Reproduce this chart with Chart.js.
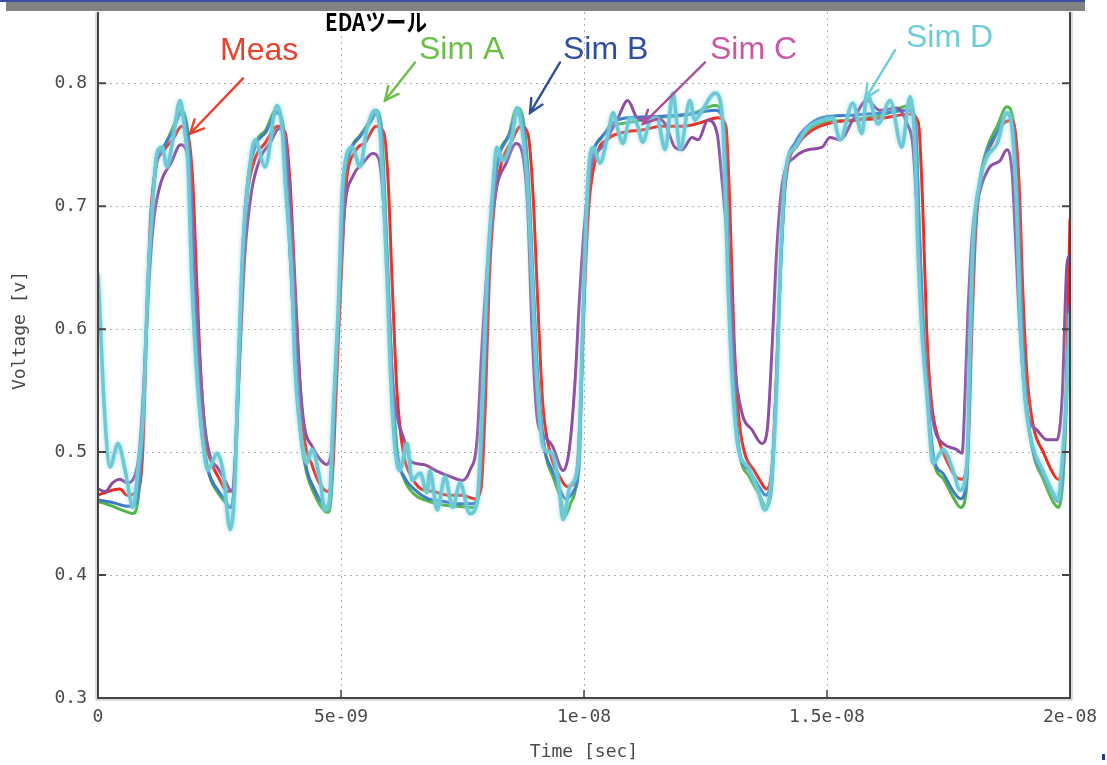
<!DOCTYPE html>
<html><head><meta charset="utf-8">
<script src="https://cdn.jsdelivr.net/npm/chart.js@4"></script>
<style>html,body{margin:0;padding:0;background:#fff}canvas{display:block}</style>
</head><body>
<canvas id="c" width="1107" height="765"></canvas>
<script>
// ---- axis ticks (time in ns) ----
const xTickValues = [0, 5, 10, 15, 20];
const xTickLabels = ['0', '5e-09', '1e-08', '1.5e-08', '2e-08'];
const yTickValues = [0.3, 0.4, 0.5, 0.6, 0.7, 0.8];
const yTickLabels = ['0.3', '0.4', '0.5', '0.6', '0.7', '0.8'];
const xTitle = 'Time [sec]';
const yTitle = 'Voltage [v]';
const seriesNames = ['Meas', 'Sim A', 'Sim B', 'Sim C', 'Sim D'];

// ---- series: [time ns, voltage V] ----
const meas = [[0,0.465],[0.2,0.468],[0.45,0.47],[0.6,0.465],[0.8,0.468],[0.92,0.5],[1.0,0.6],[1.08,0.69],[1.18,0.73],[1.35,0.745],[1.55,0.755],[1.72,0.765],[1.85,0.758],[1.95,0.72],[2.03,0.64],[2.12,0.56],[2.22,0.51],[2.35,0.49],[2.5,0.478],[2.65,0.468],[2.78,0.47],[2.86,0.52],[2.95,0.62],[3.05,0.7],[3.2,0.735],[3.45,0.752],[3.7,0.765],[3.85,0.76],[3.95,0.72],[4.05,0.64],[4.15,0.56],[4.25,0.51],[4.4,0.49],[4.55,0.475],[4.72,0.468],[4.82,0.48],[4.9,0.55],[5.0,0.64],[5.1,0.715],[5.3,0.745],[5.5,0.752],[5.72,0.765],[5.88,0.76],[5.97,0.72],[6.05,0.64],[6.15,0.55],[6.28,0.5],[6.45,0.48],[6.65,0.47],[6.9,0.468],[7.2,0.465],[7.5,0.465],[7.75,0.462],[7.88,0.47],[7.97,0.54],[8.05,0.64],[8.15,0.7],[8.3,0.735],[8.5,0.752],[8.7,0.765],[8.85,0.758],[8.95,0.71],[9.05,0.62],[9.15,0.54],[9.3,0.5],[9.5,0.48],[9.65,0.472],[9.8,0.475],[9.92,0.52],[10.0,0.62],[10.1,0.7],[10.25,0.74],[10.5,0.755],[10.8,0.76],[11.2,0.762],[11.6,0.765],[12.0,0.765],[12.4,0.768],[12.75,0.772],[12.92,0.765],[13.0,0.7],[13.08,0.6],[13.18,0.53],[13.3,0.5],[13.5,0.485],[13.65,0.475],[13.75,0.47],[13.85,0.48],[13.95,0.55],[14.03,0.64],[14.15,0.72],[14.4,0.75],[14.7,0.762],[15.1,0.768],[15.6,0.77],[16.2,0.772],[16.7,0.775],[16.88,0.768],[16.97,0.7],[17.05,0.6],[17.15,0.54],[17.3,0.51],[17.5,0.49],[17.65,0.48],[17.78,0.478],[17.9,0.5],[17.98,0.6],[18.06,0.68],[18.2,0.73],[18.4,0.752],[18.65,0.768],[18.82,0.77],[18.95,0.72],[19.03,0.63],[19.12,0.56],[19.25,0.52],[19.45,0.5],[19.62,0.485],[19.75,0.478],[19.88,0.5],[19.95,0.6],[20,0.69]];

const simA = [[0,0.46],[0.3,0.456],[0.55,0.452],[0.72,0.45],[0.82,0.46],[0.9,0.5],[0.97,0.57],[1.04,0.65],[1.12,0.7],[1.22,0.738],[1.38,0.75],[1.55,0.765],[1.7,0.778],[1.8,0.772],[1.9,0.735],[1.97,0.65],[2.07,0.56],[2.17,0.51],[2.3,0.48],[2.45,0.468],[2.6,0.46],[2.73,0.455],[2.8,0.472],[2.88,0.56],[2.98,0.665],[3.08,0.72],[3.25,0.752],[3.45,0.762],[3.66,0.778],[3.8,0.768],[3.88,0.72],[3.98,0.64],[4.08,0.565],[4.18,0.51],[4.3,0.482],[4.45,0.466],[4.6,0.455],[4.72,0.451],[4.8,0.465],[4.87,0.54],[4.96,0.625],[5.06,0.715],[5.2,0.746],[5.4,0.758],[5.6,0.77],[5.72,0.778],[5.83,0.765],[5.89,0.72],[5.98,0.63],[6.06,0.555],[6.16,0.5],[6.3,0.478],[6.5,0.466],[6.8,0.46],[7.1,0.457],[7.4,0.456],[7.7,0.455],[7.82,0.462],[7.92,0.535],[8.02,0.64],[8.12,0.705],[8.25,0.742],[8.45,0.758],[8.62,0.78],[8.75,0.77],[8.86,0.72],[8.96,0.63],[9.06,0.55],[9.2,0.5],[9.38,0.478],[9.52,0.462],[9.6,0.448],[9.72,0.458],[9.85,0.48],[9.95,0.56],[10.05,0.68],[10.15,0.735],[10.35,0.755],[10.6,0.765],[10.9,0.768],[11.5,0.772],[12.2,0.775],[12.7,0.782],[12.84,0.775],[12.92,0.72],[12.98,0.64],[13.07,0.56],[13.2,0.5],[13.4,0.48],[13.6,0.466],[13.74,0.456],[13.86,0.47],[13.95,0.55],[14.04,0.645],[14.15,0.725],[14.35,0.75],[14.6,0.762],[14.9,0.768],[15.5,0.77],[16.2,0.775],[16.7,0.782],[16.82,0.765],[16.9,0.68],[16.98,0.6],[17.08,0.535],[17.2,0.492],[17.4,0.478],[17.6,0.463],[17.75,0.455],[17.87,0.47],[17.94,0.56],[18.02,0.665],[18.15,0.722],[18.3,0.748],[18.5,0.765],[18.7,0.781],[18.83,0.77],[18.93,0.7],[19.01,0.61],[19.1,0.54],[19.25,0.498],[19.45,0.478],[19.62,0.462],[19.76,0.455],[19.86,0.48],[19.94,0.55],[20,0.6]];

const simB = [[0,0.461],[0.3,0.459],[0.6,0.456],[0.78,0.458],[0.88,0.49],[0.95,0.56],[1.03,0.64],[1.1,0.695],[1.2,0.735],[1.35,0.748],[1.55,0.762],[1.7,0.775],[1.8,0.77],[1.88,0.74],[1.95,0.65],[2.05,0.56],[2.15,0.51],[2.28,0.483],[2.45,0.47],[2.6,0.462],[2.72,0.455],[2.8,0.47],[2.88,0.56],[2.98,0.665],[3.08,0.72],[3.25,0.75],[3.45,0.76],[3.68,0.776],[3.8,0.765],[3.87,0.72],[3.98,0.64],[4.07,0.57],[4.17,0.515],[4.3,0.485],[4.45,0.47],[4.62,0.458],[4.72,0.455],[4.8,0.47],[4.86,0.54],[4.95,0.62],[5.05,0.715],[5.2,0.745],[5.4,0.757],[5.6,0.768],[5.72,0.775],[5.82,0.765],[5.88,0.72],[5.97,0.64],[6.05,0.56],[6.15,0.5],[6.3,0.48],[6.5,0.47],[6.8,0.462],[7.1,0.46],[7.4,0.458],[7.7,0.458],[7.82,0.465],[7.92,0.535],[8.02,0.64],[8.12,0.705],[8.25,0.74],[8.45,0.757],[8.62,0.775],[8.74,0.768],[8.85,0.72],[8.95,0.64],[9.05,0.56],[9.18,0.505],[9.35,0.485],[9.5,0.47],[9.62,0.462],[9.78,0.468],[9.9,0.49],[9.98,0.61],[10.08,0.715],[10.2,0.745],[10.4,0.758],[10.6,0.768],[10.9,0.772],[11.5,0.773],[12.2,0.775],[12.7,0.778],[12.85,0.772],[12.92,0.72],[12.98,0.64],[13.07,0.56],[13.2,0.5],[13.4,0.485],[13.6,0.472],[13.74,0.465],[13.86,0.48],[13.96,0.56],[14.04,0.645],[14.15,0.725],[14.35,0.752],[14.6,0.765],[14.9,0.772],[15.5,0.774],[16.2,0.776],[16.7,0.778],[16.82,0.765],[16.9,0.68],[16.98,0.6],[17.08,0.54],[17.2,0.495],[17.4,0.482],[17.6,0.468],[17.75,0.462],[17.88,0.48],[17.95,0.58],[18.02,0.665],[18.15,0.72],[18.3,0.745],[18.5,0.76],[18.7,0.775],[18.82,0.765],[18.92,0.7],[19.0,0.61],[19.1,0.54],[19.25,0.5],[19.45,0.482],[19.62,0.468],[19.75,0.46],[19.86,0.49],[19.94,0.56],[20,0.62]];

const simC = [[0,0.47],[0.15,0.468],[0.3,0.475],[0.45,0.478],[0.6,0.475],[0.75,0.48],[0.85,0.5],[0.95,0.56],[1.05,0.64],[1.15,0.69],[1.3,0.72],[1.5,0.735],[1.7,0.75],[1.82,0.745],[1.92,0.71],[2.0,0.64],[2.1,0.57],[2.2,0.52],[2.32,0.495],[2.45,0.488],[2.6,0.478],[2.75,0.468],[2.83,0.5],[2.92,0.58],[3.02,0.66],[3.15,0.71],[3.35,0.74],[3.55,0.752],[3.72,0.763],[3.85,0.755],[3.95,0.71],[4.05,0.63],[4.15,0.56],[4.25,0.52],[4.4,0.505],[4.55,0.495],[4.7,0.49],[4.8,0.5],[4.88,0.56],[4.98,0.64],[5.08,0.7],[5.25,0.725],[5.45,0.735],[5.65,0.743],[5.78,0.738],[5.88,0.7],[5.97,0.63],[6.06,0.56],[6.15,0.53],[6.3,0.51],[6.45,0.492],[6.7,0.49],[6.95,0.485],[7.25,0.48],[7.5,0.477],[7.65,0.485],[7.8,0.51],[7.9,0.585],[8.02,0.655],[8.2,0.715],[8.4,0.735],[8.6,0.751],[8.72,0.745],[8.84,0.7],[8.93,0.6],[9.03,0.53],[9.15,0.515],[9.35,0.505],[9.57,0.485],[9.7,0.503],[9.82,0.56],[9.9,0.62],[10.0,0.68],[10.16,0.735],[10.37,0.748],[10.7,0.772],[10.9,0.786],[11.09,0.772],[11.25,0.77],[11.46,0.772],[11.67,0.767],[11.87,0.748],[12.02,0.746],[12.22,0.756],[12.35,0.754],[12.55,0.77],[12.74,0.759],[12.84,0.721],[12.96,0.667],[13.05,0.613],[13.1,0.572],[13.25,0.532],[13.46,0.518],[13.66,0.507],[13.77,0.518],[13.87,0.585],[13.97,0.667],[14.09,0.721],[14.34,0.74],[14.61,0.746],[14.9,0.748],[15.06,0.756],[15.27,0.754],[15.53,0.77],[15.82,0.786],[16.09,0.778],[16.44,0.78],[16.65,0.767],[16.77,0.748],[16.87,0.681],[16.95,0.613],[17.06,0.559],[17.22,0.518],[17.39,0.507],[17.67,0.502],[17.78,0.499],[17.84,0.545],[17.9,0.613],[18.0,0.681],[18.15,0.713],[18.35,0.732],[18.56,0.737],[18.7,0.746],[18.81,0.727],[18.87,0.681],[18.97,0.6],[19.12,0.532],[19.32,0.518],[19.53,0.51],[19.73,0.51],[19.84,0.545],[19.94,0.654],[20,0.66]];

const simD = [[0,0.645],[0.04,0.613],[0.12,0.542],[0.25,0.488],[0.41,0.507],[0.56,0.485],[0.72,0.455],[0.82,0.485],[0.93,0.532],[1.03,0.64],[1.11,0.694],[1.21,0.743],[1.32,0.748],[1.42,0.732],[1.54,0.754],[1.69,0.786],[1.79,0.759],[1.85,0.735],[1.93,0.64],[2.04,0.559],[2.14,0.515],[2.26,0.485],[2.45,0.499],[2.57,0.485],[2.72,0.437],[2.82,0.477],[2.88,0.559],[2.98,0.667],[3.09,0.721],[3.23,0.754],[3.44,0.732],[3.68,0.782],[3.79,0.762],[3.85,0.721],[3.99,0.64],[4.05,0.572],[4.16,0.518],[4.3,0.491],[4.4,0.502],[4.57,0.477],[4.67,0.453],[4.76,0.46],[4.84,0.532],[4.94,0.613],[5.04,0.721],[5.23,0.748],[5.39,0.732],[5.53,0.762],[5.7,0.778],[5.8,0.762],[5.86,0.721],[5.95,0.64],[6.01,0.572],[6.11,0.504],[6.21,0.485],[6.36,0.507],[6.46,0.477],[6.63,0.483],[6.77,0.467],[6.83,0.485],[6.98,0.453],[7.14,0.48],[7.3,0.455],[7.45,0.475],[7.65,0.45],[7.8,0.459],[7.9,0.532],[8.0,0.64],[8.11,0.707],[8.21,0.748],[8.33,0.737],[8.52,0.756],[8.62,0.78],[8.72,0.764],[8.83,0.721],[8.93,0.64],[9.03,0.559],[9.16,0.504],[9.34,0.499],[9.47,0.477],[9.57,0.445],[9.71,0.472],[9.88,0.491],[9.98,0.613],[10.08,0.721],[10.19,0.748],[10.33,0.735],[10.47,0.754],[10.6,0.776],[10.7,0.762],[10.8,0.751],[10.95,0.772],[11.09,0.767],[11.21,0.752],[11.36,0.77],[11.5,0.772],[11.67,0.746],[11.83,0.792],[11.98,0.746],[12.18,0.786],[12.28,0.77],[12.43,0.778],[12.7,0.792],[12.84,0.776],[12.9,0.721],[12.96,0.64],[13.05,0.559],[13.17,0.504],[13.37,0.488],[13.58,0.469],[13.72,0.453],[13.87,0.483],[13.97,0.559],[14.03,0.64],[14.14,0.727],[14.34,0.748],[14.61,0.764],[14.9,0.77],[15.12,0.772],[15.27,0.754],[15.53,0.784],[15.72,0.759],[15.82,0.792],[16.05,0.767],[16.3,0.786],[16.54,0.748],[16.71,0.789],[16.81,0.748],[16.87,0.667],[16.95,0.599],[17.06,0.545],[17.18,0.491],[17.39,0.502],[17.57,0.488],[17.74,0.469],[17.88,0.491],[17.94,0.585],[18.0,0.667],[18.15,0.721],[18.29,0.74],[18.5,0.751],[18.7,0.776],[18.81,0.762],[18.91,0.694],[18.97,0.613],[19.07,0.545],[19.24,0.504],[19.44,0.485],[19.65,0.467],[19.75,0.461],[19.86,0.504],[19.94,0.559],[20,0.613]];

// ---- annotation labels (positions in data units: ns, V) ----
const annoText = ['Meas', 'Sim A', 'Sim B', 'Sim C', 'Sim D'];
const annoColor = ['#e8412c', '#6cbf46', '#2f4f9f', '#c95aa0', '#6fcdd9'];
const arrowColor = ['#e8412c', '#6cbf46', '#2f4f9f', '#a9509f', '#6fcdd9'];
const annoLabelPos = [[2.51,0.819],[6.605,0.820],[9.568,0.820],[12.593,0.8195],[16.626,0.8293]];
const annoTail = [[2.984,0.804],[6.523,0.817],[9.506,0.817],[12.49,0.817],[16.4,0.827]];
const annoTip = [[1.893,0.759],[5.905,0.786],[8.889,0.776],[11.214,0.767],[15.80,0.788]];
const toolTitle = 'EDAツール';
const toolTitlePos = [4.671, 0.8425];
const yTitleCenterV = 0.599;

const lineColors = ['#f02a1e', '#52b548', '#3c7ac8', '#8f4ea3', '#6ccad6'];
const seriesData = [meas, simA, simB, simC, simD];
const drawOrder = [4, 5, 2, 1, 0];
const widths = [3, 3, 3, 3, 3.6];

const TICK_FONT = {family: '"DejaVu Sans Mono", monospace', size: 18};
const TXT = '#4a4a4a';

const bgPlugin = {
  id: 'bg',
  beforeDraw(chart) {
    const c = chart.ctx; c.save(); c.fillStyle = '#fff'; c.fillRect(0, 0, chart.width, chart.height); c.restore();
  }
};
const glowPlugin = {
  id: 'glow',
  beforeDatasetDraw(chart, args) {
    const ds = chart.data.datasets[args.index];
    if (ds.glow) { chart.ctx.save(); chart.ctx.shadowColor = ds.glow; chart.ctx.shadowBlur = 4; }
  },
  afterDatasetDraw(chart, args) {
    if (chart.data.datasets[args.index].glow) chart.ctx.restore();
  }
};
const decoPlugin = {
  id: 'deco',
  afterDraw(chart) {
    const c = chart.ctx, a = chart.chartArea, xs = chart.scales.x, ys = chart.scales.y;
    c.save();
    // frame
    c.lineCap = 'butt';
    c.strokeStyle = '#b8b8b8'; c.lineWidth = 1;
    c.beginPath(); c.moveTo(a.left - 2, a.top); c.lineTo(a.left - 2, a.bottom + 2); c.lineTo(a.right + 2, a.bottom + 2); c.lineTo(a.right + 2, a.top); c.stroke();
    c.strokeStyle = '#444'; c.lineWidth = 2;
    c.beginPath(); c.moveTo(a.left, a.top); c.lineTo(a.left, a.bottom); c.lineTo(a.right, a.bottom); c.lineTo(a.right, a.top); c.stroke();
    // inward ticks
    c.lineWidth = 2; c.strokeStyle = '#444';
    yTickValues.forEach(v => {
      if (v === yTickValues[0]) return;
      const y = ys.getPixelForValue(v);
      c.beginPath(); c.moveTo(a.left, y); c.lineTo(a.left + 8, y); c.moveTo(a.right, y); c.lineTo(a.right - 8, y); c.stroke();
    });
    c.lineWidth = 1.5;
    xTickValues.forEach((v, i) => {
      if (i === 0 || i === xTickValues.length - 1) return;
      const x = xs.getPixelForValue(v);
      c.beginPath(); c.moveTo(x, a.bottom); c.lineTo(x, a.bottom - 8); c.stroke();
    });
    // y axis title
    c.save();
    c.translate(20, ys.getPixelForValue(yTitleCenterV));
    c.rotate(-Math.PI / 2);
    c.font = '18px "DejaVu Sans Mono", monospace';
    c.fillStyle = TXT; c.textAlign = 'center'; c.textBaseline = 'middle';
    c.fillText(yTitle, 0, 0);
    c.restore();
    // top bar
    c.fillStyle = '#3b50a0'; c.fillRect(0, 0, 1085, 2);
    c.fillStyle = '#828282'; c.fillRect(6, 2, 1079, 9);
    c.fillStyle = '#2a3a8a'; c.fillRect(1102, 754, 3, 6);
    // annotations
    for (let i = 0; i < annoText.length; i++) {
      const tx = xs.getPixelForValue(annoTail[i][0]), ty = ys.getPixelForValue(annoTail[i][1]);
      const hx = xs.getPixelForValue(annoTip[i][0]), hy = ys.getPixelForValue(annoTip[i][1]);
      c.strokeStyle = arrowColor[i]; c.lineWidth = 2.4; c.lineCap = 'round';
      c.beginPath(); c.moveTo(tx, ty); c.lineTo(hx, hy); c.stroke();
      const ang = Math.atan2(ty - hy, tx - hx), L = 15, sp = 0.45;
      c.beginPath();
      c.moveTo(hx + L * Math.cos(ang - sp), hy + L * Math.sin(ang - sp));
      c.lineTo(hx, hy);
      c.lineTo(hx + L * Math.cos(ang + sp), hy + L * Math.sin(ang + sp));
      c.stroke();
      c.fillStyle = annoColor[i];
      c.font = '32px "Liberation Sans", Arial, sans-serif';
      c.textBaseline = 'alphabetic'; c.textAlign = 'left';
      c.fillText(annoText[i], xs.getPixelForValue(annoLabelPos[i][0]), ys.getPixelForValue(annoLabelPos[i][1]));
    }
    // tool title
    c.font = 'bold 24px "Noto Sans CJK JP", sans-serif';
    const w = c.measureText(toolTitle).width;
    const px = xs.getPixelForValue(toolTitlePos[0]), py = ys.getPixelForValue(toolTitlePos[1]);
    c.translate(px, py); c.scale(102 / w, 1);
    c.fillStyle = '#000'; c.textBaseline = 'alphabetic'; c.textAlign = 'left';
    c.fillText(toolTitle, 0, 0);
    c.restore();
  }
};

const datasets = seriesNames.map((n, i) => ({
  label: n,
  data: seriesData[i],
  borderColor: lineColors[i],
  borderWidth: widths[i],
  pointRadius: 0,
  fill: false,
  cubicInterpolationMode: 'monotone',
  order: drawOrder[i],
  glow: i === 4 ? 'rgba(140,215,228,0.9)' : null
}));

new Chart(document.getElementById('c'), {
  type: 'line',
  data: {datasets},
  plugins: [bgPlugin, glowPlugin, decoPlugin],
  options: {
    responsive: false,
    animation: false,
    devicePixelRatio: 1,
    layout: {padding: {top: 12, right: 37, left: 0, bottom: 0}},
    plugins: {legend: {display: false}, tooltip: {enabled: false}},
    scales: {
      x: {
        type: 'linear', min: 0, max: 20,
        afterBuildTicks: s => { s.ticks = xTickValues.map(v => ({value: v})); },
        afterFit: s => { s.height = 67; s.paddingLeft = 0; s.paddingRight = 0; },
        ticks: {callback: v => xTickLabels[xTickValues.indexOf(v)], font: TICK_FONT, color: TXT, padding: 9, maxRotation: 0, autoSkip: false},
        grid: {color: '#b0b0b0', lineWidth: 1, drawTicks: false},
        border: {display: false, dash: [2, 4]},
        title: {display: true, text: xTitle, font: TICK_FONT, color: TXT, padding: {top: 4, bottom: 2}}
      },
      y: {
        type: 'linear', min: 0.3, max: 0.858,
        afterBuildTicks: s => { s.ticks = yTickValues.map(v => ({value: v})); },
        afterFit: s => { s.width = 98; s.paddingTop = 0; s.paddingBottom = 0; },
        ticks: {callback: v => yTickLabels[yTickValues.indexOf(v)], font: TICK_FONT, color: TXT, padding: 11},
        grid: {color: '#b0b0b0', lineWidth: 1, drawTicks: false},
        border: {display: false, dash: [2, 4]},
        title: {display: false}
      }
    }
  }
});
</script>
</body></html>
